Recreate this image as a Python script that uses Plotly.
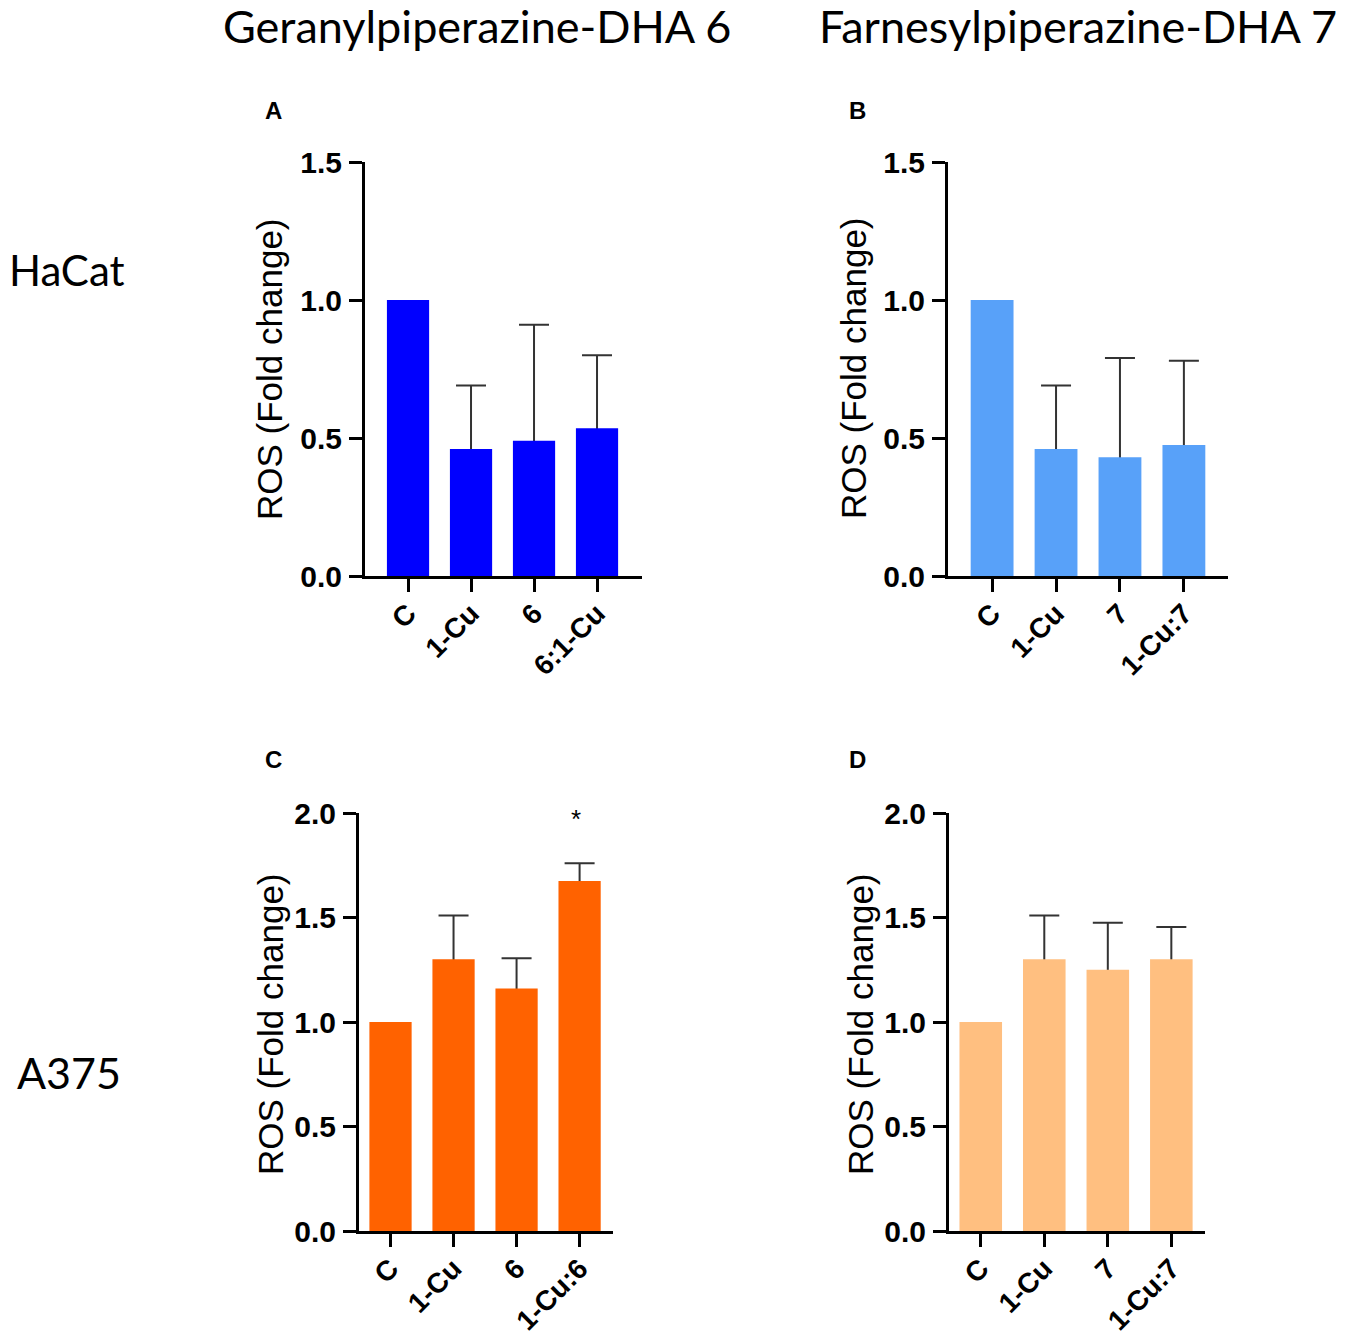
import plotly.graph_objects as go

# ---- data ----
cats_a = ["C", "1-Cu", "6", "6:1-Cu"]
cats_b = ["C", "1-Cu", "7", "1-Cu:7"]
cats_c = ["C", "1-Cu", "6", "1-Cu:6"]
cats_d = ["C", "1-Cu", "7", "1-Cu:7"]

ros_a = [1.0, 0.46, 0.49, 0.535]
err_a = [0, 0.23, 0.42, 0.265]
ros_b = [1.0, 0.46, 0.43, 0.475]
err_b = [0, 0.23, 0.36, 0.305]
ros_c = [1.0, 1.30, 1.16, 1.675]
err_c = [0, 0.21, 0.145, 0.085]
ros_d = [1.0, 1.30, 1.25, 1.30]
err_d = [0, 0.21, 0.225, 0.155]

# the page body keeps its default 8px margin, so the figure is drawn
# 8px in from the top-left corner of the window
OFF = 8
W, H = 1350 - OFF, 1334 - OFF
ARIAL = "Liberation Sans, Arial, sans-serif"
HEAD = "Lato, Open Sans, sans-serif"

fig = go.Figure()


def px_x(v):
    return (v - OFF) / W


def px_y(v):
    return 1 - (v - OFF) / H


def label(x, y, text, size, family=ARIAL, angle=0):
    fig.add_annotation(
        x=px_x(x), y=px_y(y), xref="paper", yref="paper", text=text,
        xanchor="center", yanchor="middle", textangle=angle, showarrow=False,
        font=dict(family=family, size=size, color="black"),
    )


def add_panel(n, cats, vals, errs, color, xpx, ypx, xrange, yrange, letter, title_pos):
    xa = "x" if n == 1 else f"x{n}"
    ya = "y" if n == 1 else f"y{n}"
    keep = [i for i, e in enumerate(errs) if e > 0]
    # hidden bars carrying the error bars, then the visible bars drawn over their lower half
    fig.add_trace(
        go.Bar(
            x=[cats[i] for i in keep], y=[vals[i] for i in keep], width=0.67,
            marker=dict(color="rgba(0,0,0,0)", line=dict(width=0)),
            error_y=dict(type="data", array=[errs[i] for i in keep],
                         color="#333333", thickness=2, width=15),
            xaxis=xa, yaxis=ya, hoverinfo="skip",
        )
    )
    fig.add_trace(
        go.Bar(
            x=cats, y=vals, width=0.67,
            marker=dict(color=color, line=dict(width=0)),
            xaxis=xa, yaxis=ya,
        )
    )
    key = "" if n == 1 else str(n)
    axis_common = dict(
        showline=True, linecolor="black", linewidth=3,
        ticks="outside", ticklen=13, tickwidth=3, tickcolor="black",
        showgrid=False, zeroline=False, automargin=False,
    )
    fig.update_layout(
        **{
            f"xaxis{key}": dict(
                domain=[px_x(xpx[0]), px_x(xpx[1])], anchor=ya, range=xrange,
                categoryorder="array", categoryarray=cats,
                tickangle=-45, ticklabelstandoff=-6,
                tickfont=dict(family=ARIAL, size=28, color="black", weight="bold"),
                **axis_common,
            ),
            f"yaxis{key}": dict(
                domain=[px_y(ypx[1]), px_y(ypx[0])], anchor=xa, range=yrange,
                dtick=0.5, tickformat=".1f", ticklabelstandoff=1,
                tickfont=dict(family=ARIAL, size=30, color="black", weight="bold"),
                **axis_common,
            ),
        }
    )
    label(letter[0], letter[1], f"<b>{letter[2]}</b>", 24)
    label(title_pos[0], title_pos[1], "ROS (Fold change)", 35, angle=-90)


add_panel(1, cats_a, ros_a, err_a, "#0000FF", (365, 642), (162, 576),
          [-0.683, 3.714], [0, 1.5], (273, 111, "A"), (270, 369))
add_panel(2, cats_b, ros_b, err_b, "#58A1F9", (948, 1228), (162, 576),
          [-0.69, 3.69], [0, 1.5], (857, 111, "B"), (854, 368))
add_panel(3, cats_c, ros_c, err_c, "#FF6200", (359, 613), (813, 1231),
          [-0.5, 3.53], [0, 2.0], (273, 759, "C"), (270, 1024))
add_panel(4, cats_d, ros_d, err_d, "#FFBF80", (949, 1205), (813, 1231),
          [-0.5, 3.53], [0, 2.0], (857, 759, "D"), (860, 1024))

# significance marker
fig.add_annotation(
    x="1-Cu:6", y=1.97, xref="x3", yref="y3", text="*", showarrow=False,
    xanchor="center", yanchor="middle", xshift=-4,
    font=dict(family=ARIAL, size=26, color="black"),
)

# column and row headings
label(477, 26, "Geranylpiperazine-DHA 6", 45, family=HEAD)
label(1078, 26, "Farnesylpiperazine-DHA 7", 45, family=HEAD)
label(67, 270, "HaCat", 42, family=HEAD)
label(69, 1072, "A375", 43, family=HEAD)

fig.update_layout(
    width=W,
    height=H,
    margin=dict(l=0, r=0, t=0, b=0),
    paper_bgcolor="white",
    plot_bgcolor="white",
    showlegend=False,
    barmode="overlay",
)

fig.write_html("out.html")
